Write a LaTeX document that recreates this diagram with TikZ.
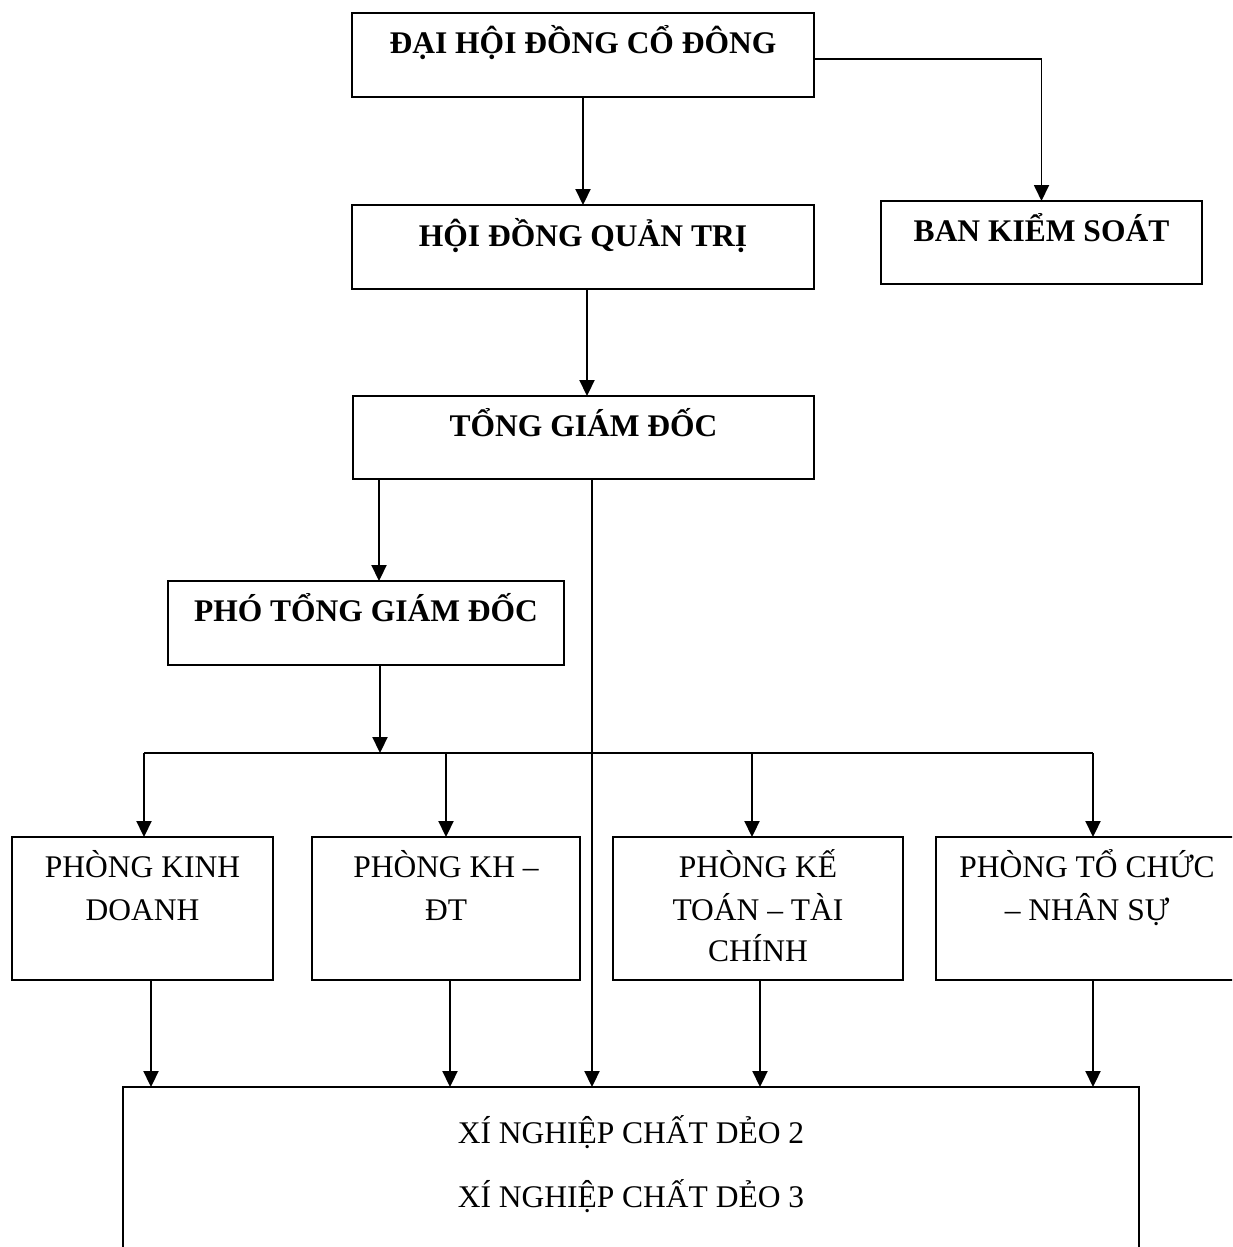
\documentclass[tikz,border=0pt]{standalone}
\usepackage{fontspec}
\setmainfont{Liberation Serif}
\usetikzlibrary{arrows.meta}
\tikzset{
  box/.style={draw, line width=1.7pt, inner sep=0pt, outer sep=0pt, rectangle},
  conn/.style={line width=2.2pt},
  arr/.style={conn, -{Triangle[width=15pt,length=16pt]}},
  bt/.style={anchor=base, inner sep=0pt, font=\fontsize{31.5}{38}\selectfont\bfseries},
  rt/.style={anchor=base, inner sep=0pt, font=\fontsize{31.5}{38}\selectfont},
}
\begin{document}
\begin{tikzpicture}[x=1pt,y=-1pt]
\useasboundingbox (0,0) rectangle (1232,1247);
\clip (0,0) rectangle (1232,1247);
\fill[white] (0,0) rectangle (1232,1247);

% boxes
\node[box, minimum width=462pt, minimum height=84pt] (A) at (583,55) {};
\node[box, minimum width=321pt, minimum height=83pt] (B) at (1041.5,242.5) {};
\node[box, minimum width=462pt, minimum height=84pt] (C) at (583,247) {};
\node[box, minimum width=461pt, minimum height=83pt] (D) at (583.5,437.5) {};
\node[box, minimum width=396pt, minimum height=84pt] (E) at (366,623) {};
\node[box, minimum width=261pt, minimum height=143pt] (F1) at (142.5,908.5) {};
\node[box, minimum width=268pt, minimum height=143pt] (F2) at (446,908.5) {};
\node[box, minimum width=290pt, minimum height=143pt] (F3) at (758,908.5) {};
\node[box, minimum width=306pt, minimum height=143pt] (F4) at (1089,908.5) {};
\node[box, minimum width=1016pt, minimum height=213pt] (G) at (631,1193.5) {};

% texts
\node[bt] (At) at (583,54) {ĐẠI HỘI ĐỒNG CỔ ĐÔNG};
\node[bt] (Bt) at (1041.5,241) {BAN KIỂM SOÁT};
\node[bt] (Ct) at (583,246) {HỘI ĐỒNG QUẢN TRỊ};
\node[bt] (Dt) at (583.5,436) {TỔNG GIÁM ĐỐC};
\node[bt] (Et) at (366,621) {PHÓ TỔNG GIÁM ĐỐC};
\node[rt] (F1a) at (142.5,877) {PHÒNG KINH};
\node[rt] (F1b) at (142.5,920) {DOANH};
\node[rt] (F2a) at (446,877) {PHÒNG KH –};
\node[rt] (F2b) at (446,920) {ĐT};
\node[rt] (F3a) at (758,877) {PHÒNG KẾ};
\node[rt] (F3b) at (758,920) {TOÁN – TÀI};
\node[rt] (F3c) at (758,961) {CHÍNH};
\node[rt] (F4a) at (1087,877) {PHÒNG TỔ CHỨC};
\node[rt] (F4b) at (1087,920) {– NHÂN SỰ};
\node[rt] (Ga) at (631,1143) {XÍ NGHIỆP CHẤT DẺO 2};
\node[rt] (Gb) at (631,1207) {XÍ NGHIỆP CHẤT DẺO 3};

% helper coordinates
\coordinate (xc) at (587,0);
\coordinate (xe) at (379,0);
\coordinate (bus) at (380,753);
\coordinate (d1) at (144,753);
\coordinate (d2) at (446,753);
\coordinate (d3) at (752,753);
\coordinate (d4) at (1093,753);
\coordinate (xv) at (592,0);
\coordinate (b1) at (151,0);
\coordinate (b2) at (450,0);
\coordinate (b3) at (760,0);
\coordinate (b4) at (1093,0);

% connectors
\draw[arr] (A.south) -- (C.north);
\draw[arr, line width=1.8pt] ([yshift=-4pt]A.east) -| (B.north);
\draw[arr] (C.south -| xc) -- (D.north -| xc);
\draw[arr] (D.south -| xe) -- (E.north -| xe);
\draw[arr] (E.south -| bus) -- (bus);
\draw[conn] (d1) -- (d4);
\draw[arr] (d1) -- (d1 |- F1.north);
\draw[arr] (d2) -- (d2 |- F2.north);
\draw[arr] (d3) -- (d3 |- F3.north);
\draw[arr] (d4) -- (d4 |- F4.north);
\draw[arr] (D.south -| xv) -- (G.north -| xv);
\draw[arr] (F1.south -| b1) -- (G.north -| b1);
\draw[arr] (F2.south -| b2) -- (G.north -| b2);
\draw[arr] (F3.south -| b3) -- (G.north -| b3);
\draw[arr] (F4.south -| b4) -- (G.north -| b4);
\end{tikzpicture}
\end{document}
